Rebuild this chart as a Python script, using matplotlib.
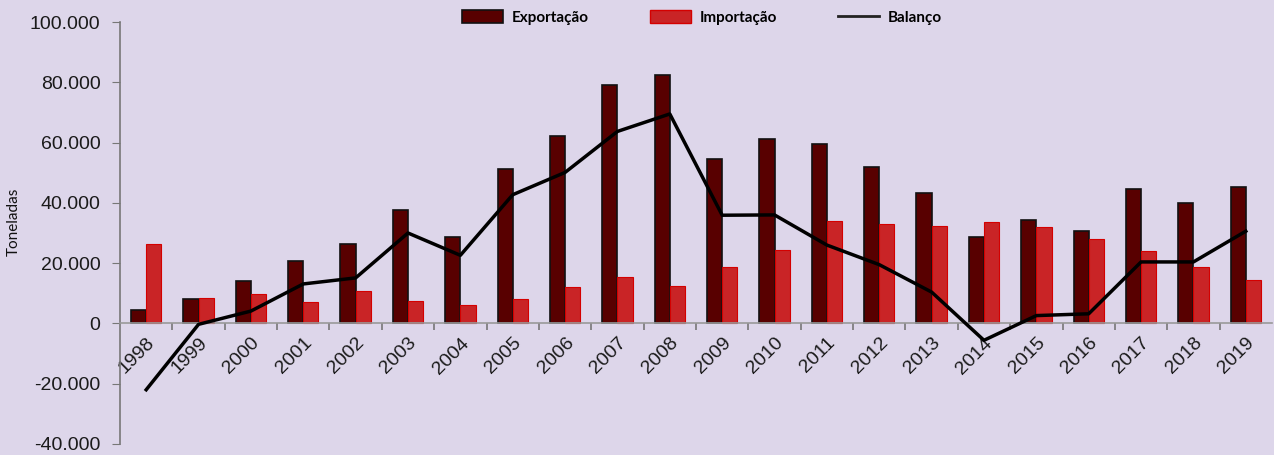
import numpy as np
import matplotlib.pyplot as plt
from matplotlib.patches import Patch
from matplotlib.lines import Line2D
from matplotlib.ticker import FuncFormatter

anos = [str(a) for a in range(1998, 2020)]
exportacao = [4300, 8000, 14200, 20600, 26500, 37500, 28700, 51300, 62300, 79000, 82500,
              54700, 61300, 59600, 52000, 43300, 28600, 34400, 30800, 44600, 39800, 45300]
importacao = [26500, 8400, 9700, 7200, 10800, 7600, 6000, 8200, 12000, 15500, 12500,
              18700, 24500, 34100, 33100, 32300, 33800, 31900, 27900, 24100, 18800, 14300]
balanco = [-22000, -300, 4100, 13100, 15100, 30000, 22600, 42700, 50100, 63700, 69500,
           35900, 36000, 26000, 19500, 10400, -5600, 2600, 3200, 20400, 20400, 30600]

fundo = '#DDD6EA'
cor_exp = '#580000'
cor_imp = '#C92426'

fig = plt.figure(figsize=(12.74, 4.55), dpi=100, facecolor=fundo)
ax = fig.add_axes([0.0942, 0.0242, 0.9042, 0.9274])
ax.set_facecolor(fundo)

x = np.arange(len(anos))
w = 0.29
ax.bar(x - w / 2, exportacao, w, color=cor_exp, edgecolor='#111111', linewidth=1.2, zorder=2)
ax.bar(x + w / 2, importacao, w, color=cor_imp, edgecolor='#D40000', linewidth=0.8, zorder=2)
ax.plot(x, balanco, color='black', linewidth=2.5, zorder=3)

ax.set_xlim(-0.5, len(anos) - 0.5)
ax.set_ylim(-40000, 100000)
ax.set_yticks(np.arange(-40000, 100001, 20000))
ax.yaxis.set_major_formatter(FuncFormatter(lambda v, p: f'{int(v):,}'.replace(',', '.')))

for s in ['top', 'right']:
    ax.spines[s].set_visible(False)
ax.spines['bottom'].set_position(('data', 0))
ax.spines['left'].set_color('#777777')
ax.spines['bottom'].set_color('#999999')
ax.spines['left'].set_linewidth(1.2)
ax.spines['bottom'].set_linewidth(1.2)

ax.tick_params(axis='y', length=6, color='#777777', labelsize=14, labelcolor='#1a1a1a', pad=8)
ax.set_xticks(x)
ax.set_xticklabels(anos, rotation=45, ha='right', rotation_mode='anchor')
ax.tick_params(axis='x', which='major', length=0, labelsize=14, labelcolor='#1a1a1a', pad=8)
ax.set_xticks(x[:-1] + 0.5, minor=True)
ax.tick_params(axis='x', which='minor', length=5, color='#777777', width=1.2)
for lbl in ax.get_xticklabels():
    lbl.set_fontfamily('Liberation Sans')
for lbl in ax.get_yticklabels():
    lbl.set_fontfamily('Liberation Sans')

fig.text(0.011, 0.513, 'Toneladas', rotation=90, ha='center', va='center',
         fontsize=11, family='Lato', color='#111111')

handles = [Patch(facecolor=cor_exp, edgecolor='#111111', linewidth=1.2),
           Patch(facecolor=cor_imp, edgecolor='#D40000'),
           Line2D([0], [0], color='#222222', linewidth=2)]
fig.legend(handles, ['Exportação', 'Importação', 'Balanço'], ncol=3, frameon=False,
           loc='center', bbox_to_anchor=(0.551, 0.962), handlelength=2.7, handleheight=0.9,
           columnspacing=4.0, handletextpad=0.55,
           prop={'family': 'Lato', 'size': 11, 'weight': 'bold'})

fig.savefig('out.png', dpi=100, facecolor=fundo)
